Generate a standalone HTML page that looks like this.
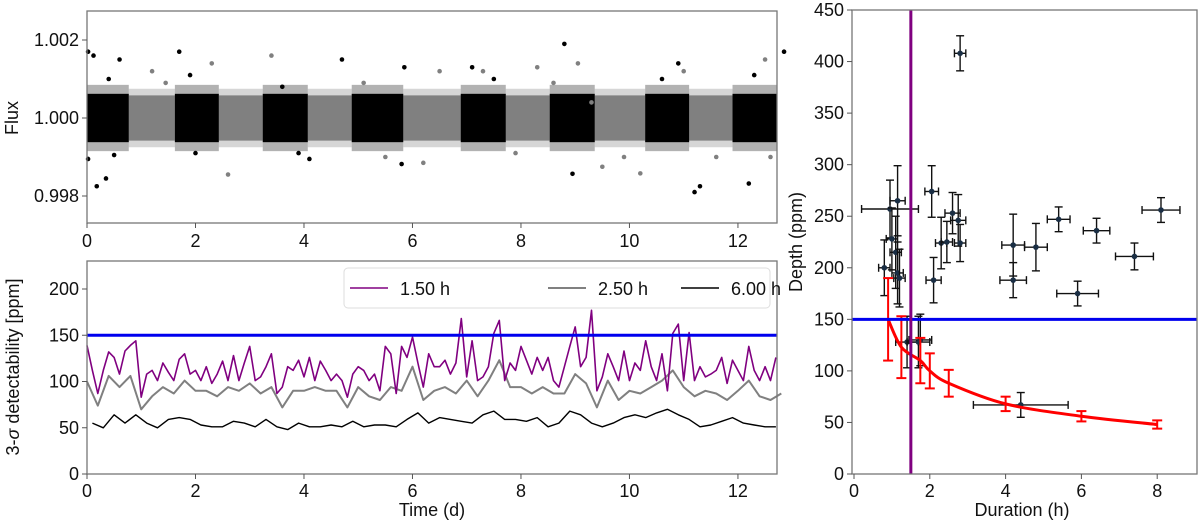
<!DOCTYPE html>
<html><head><meta charset="utf-8">
<style>
body{margin:0;background:#fff;}
svg{display:block;font-family:"Liberation Sans","DejaVu Sans",sans-serif;}
</style></head>
<body>
<svg id="fig" width="1200" height="522" viewBox="0 0 1200 522"></svg>
<script>
// ---------- DATA ----------
const blockStarts=[0,1.62,3.24,4.88,6.89,8.53,10.29,11.9];
const blockEnds=[0.77,2.43,4.07,5.83,7.72,9.36,11.1,12.72];
const outT=[0.02,0.12,0.18,0.35,0.6,1.2,1.45,1.7,2.3,2.6,3.4,4.1,4.7,5.8,6.2,7.1,7.3,8.3,8.8,9.05,9.5,10.2,10.9,11.0,11.3,12.2,12.5,12.85,0.02,5.85,6.5,8.95,9.3,11.2,0.4,0.5,1.9,2.0,3.6,3.9,5.1,5.5,7.5,7.9,8.6,9.9,10.6,11.6,12.3,12.6];
const outF=[1.0017,1.0016,0.99825,0.99845,1.0015,1.0012,1.0009,1.0017,1.0014,0.99855,1.0016,0.99895,1.0015,0.99882,0.99885,1.0013,1.0012,1.0013,1.0019,1.0014,0.99875,0.99858,1.0014,1.0012,0.99825,0.99832,1.0015,1.0017,0.99895,1.0013,1.0012,0.99857,1.0004,0.9981,1.0010,0.99905,1.0011,0.9991,1.0008,0.9991,1.0009,0.9990,1.0010,0.9991,1.0009,0.9990,1.0010,0.9990,1.0011,0.9990];
const outC=[1,1,1,1,1,0,0,1,0,0,0,1,1,1,0,1,0,0,1,0,0,0,1,0,1,1,0,1,1,1,0,1,0,1,1,1,1,1,1,1,0,0,1,0,0,0,1,0,1,0];

const purpleT0=0, step1=0.1;
const purple=[139,112,87,112,132,126,108,133,139,144,83,108,112,101,120,110,101,124,130,108,112,101,116,98,108,122,101,128,101,120,138,101,105,116,130,87,94,116,112,123,105,126,101,122,112,101,108,101,83,108,116,112,101,108,90,138,130,87,138,126,148,120,94,130,116,116,123,108,120,168,105,144,101,105,116,152,166,101,120,112,138,123,108,126,112,126,101,94,116,138,159,116,126,177,90,105,130,116,101,133,101,120,112,144,116,101,130,90,152,162,101,153,101,116,105,108,112,126,98,123,112,101,138,112,101,116,101,126];
const step2=0.2;
const gray=[100,74,106,94,106,70,84,94,87,101,90,90,84,94,90,98,87,94,72,90,90,94,90,90,72,94,84,80,94,90,116,80,90,94,87,101,84,101,123,94,94,87,94,87,87,108,98,72,101,80,90,87,94,101,112,94,84,90,87,80,90,101,84,80,87];
const blackT0=0.1;
const black=[55,50,64,55,64,55,50,59,61,59,53,51,51,57,55,51,59,51,48,55,51,51,53,51,57,51,53,53,51,59,66,55,61,59,57,55,64,68,59,59,57,61,51,55,68,64,55,51,55,61,64,61,66,70,64,59,51,53,57,61,55,53,51,51];

const ptD=[2.8,0.95,1.15,2.05,0.8,1.0,1.1,1.15,1.2,2.1,2.3,2.45,2.6,2.75,2.8,1.4,1.7,1.75,4.2,4.2,4.8,5.4,6.4,5.9,7.4,8.1,4.4];
const ptV=[408,257,265,274,200,228,215,195,190,188,224,225,253,246,224,128,128,130,222,188,220,247,236,175,211,256,67];
const ptXE=[0.15,0.75,0.2,0.18,0.15,0.15,0.15,0.15,0.15,0.2,0.15,0.15,0.2,0.2,0.15,0.3,0.3,0.3,0.3,0.35,0.3,0.3,0.35,0.55,0.5,0.5,1.25];
const ptYE=[17,28,34,25,27,30,35,30,28,22,25,20,20,25,18,25,25,25,30,17,23,12,12,12,13,12,12];
const redD=[0.9,1.25,1.75,2.0,2.5,4,6,8];
const redV=[150,123,110,100,88,68,56,48];
const redE=[40,30,22,17,13,7,5,4];
const hLine=150, vLine=1.5;

// ---------- helpers ----------
const NS='http://www.w3.org/2000/svg';
const svg=document.getElementById('fig');
function mk(tag,attrs,parent){const e=document.createElementNS(NS,tag);for(const k in attrs)e.setAttribute(k,attrs[k]);(parent||svg).appendChild(e);return e;}
function txt(x,y,s,attrs){const e=mk('text',Object.assign({x:x,y:y,'font-size':18,fill:'#111'},attrs||{}));e.textContent=s;return e;}

const L={x0:87,x1:777,t0:0,t1:12.72};
const tx=t=>L.x0+(t-L.t0)*(L.x1-L.x0)/(L.t1-L.t0);
const fy=f=>118-(f-1)/0.001*39;
const dy=v=>474-v*0.925;
const rx=d=>854+d*37.9;
const ry=v=>474-v*464/450;

// ---------- top panel ----------
const gTop=mk('g',{});


for(let i=0;i<blockStarts.length;i++){
  const gs=blockEnds[i], ge=(i+1<blockStarts.length)?blockStarts[i+1]:12.72;
  if(ge>gs){
    const g1=mk('rect',{x:tx(gs),y:fy(1.00075),width:tx(ge)-tx(gs),height:fy(0.99925)-fy(1.00075),fill:'#8a8a8a',opacity:0.35},gTop);
    
    const g2=mk('rect',{x:tx(gs),y:fy(1.00058),width:tx(ge)-tx(gs),height:fy(0.99942)-fy(1.00058),fill:'#808080'},gTop);
    
  }
  const b1=mk('rect',{x:tx(blockStarts[i]),y:fy(1.00085),width:tx(blockEnds[i])-tx(blockStarts[i]),height:fy(0.99915)-fy(1.00085),fill:'#000',opacity:0.3},gTop);
  
  const b2=mk('rect',{x:tx(blockStarts[i]),y:fy(1.00062),width:tx(blockEnds[i])-tx(blockStarts[i]),height:fy(0.99938)-fy(1.00062),fill:'#000'},gTop);
  
}
for(let i=0;i<outT.length;i++){
  const c=mk('circle',{cx:tx(outT[i]),cy:fy(outF[i]),r:2.3,fill:outC[i]?'#000':'#808080'},gTop);
  
}
const fTop=mk('rect',{x:87,y:11,width:690,height:212,fill:'none',stroke:'#777','stroke-width':1.3});

[[1.002,'1.002'],[1.000,'1.000'],[0.998,'0.998']].forEach(([v,s])=>{
  mk('line',{x1:82,x2:87,y1:fy(v),y2:fy(v),stroke:'#555'});
  const t=txt(79,fy(v)+6,s,{'text-anchor':'end'});
  
});
const flT=txt(18,118,'Flux',{'text-anchor':'middle',transform:'rotate(-90 18 118)'});

[0,2,4,6,8,10,12].forEach(v=>{
  mk('line',{x1:tx(v),x2:tx(v),y1:223,y2:228,stroke:'#555'});
  const t=txt(tx(v),247,String(v),{'text-anchor':'middle'});
  
});

// ---------- bottom panel ----------
function poly(vals,t0,st,color,w,name){
  const pts=vals.map((v,i)=>tx(t0+i*st).toFixed(1)+','+dy(v).toFixed(1)).join(' ');
  const p=mk('polyline',{points:pts,fill:'none',stroke:color,'stroke-width':w,'stroke-linejoin':'round'});
  
}
poly(gray,0,step2,'#808080',2,'line-2-50h');
poly(purple,purpleT0,step1,'#800080',1.6,'line-1-50h');
poly(black,blackT0,step2,'#000',1.4,'line-6-00h');
const bl=mk('line',{x1:87,x2:777,y1:dy(hLine),y2:dy(hLine),stroke:'#0000ee','stroke-width':3});

const fBot=mk('rect',{x:87,y:261,width:690,height:213,fill:'none',stroke:'#777','stroke-width':1.3});

[0,50,100,150,200].forEach(v=>{
  mk('line',{x1:82,x2:87,y1:dy(v),y2:dy(v),stroke:'#555'});
  const t=txt(79,dy(v)+6,String(v),{'text-anchor':'end'});
  
});
[0,2,4,6,8,10,12].forEach(v=>{
  mk('line',{x1:tx(v),x2:tx(v),y1:474,y2:479,stroke:'#555'});
  const t=txt(tx(v),497,String(v),{'text-anchor':'middle'});
  
});
const dT=mk('text',{x:0,y:0,'font-size':18,fill:'#111','text-anchor':'middle',transform:'translate(19 367) rotate(-90)'});
dT.innerHTML='3-<tspan font-style="italic">σ</tspan> detectability [ppm]';

const tT=txt(432,516,'Time (d)',{'text-anchor':'middle'});

const lg=mk('g',{});

mk('rect',{x:344,y:268,width:426,height:40,rx:4,fill:'#fff',stroke:'#ddd'},lg);
[['#800080','1.50 h',350],['#808080','2.50 h',548],['#000','6.00 h',681]].forEach(([c,s,x])=>{
  const e=mk('g',{},lg);
  
  mk('line',{x1:x,x2:x+38,y1:288,y2:288,stroke:c,'stroke-width':c==='#808080'?2:1.6},e);
  const t=mk('text',{x:x+50,y:295,'font-size':18,fill:'#111'},e);t.textContent=s;
});

// ---------- right panel ----------
const gR=mk('g',{});

for(let i=0;i<ptD.length;i++){
  const g=mk('g',{stroke:'#111','stroke-width':1.4},gR);
  
  const x=rx(ptD[i]),y=ry(ptV[i]),xl=rx(ptD[i]-ptXE[i]),xr=rx(ptD[i]+ptXE[i]),yt=ry(ptV[i]+ptYE[i]),yb=ry(ptV[i]-ptYE[i]);
  mk('line',{x1:xl,x2:xr,y1:y,y2:y},g);
  mk('line',{x1:xl,x2:xl,y1:y-4,y2:y+4},g);
  mk('line',{x1:xr,x2:xr,y1:y-4,y2:y+4},g);
  mk('line',{x1:x,x2:x,y1:yt,y2:yb},g);
  mk('line',{x1:x-4,x2:x+4,y1:yt,y2:yt},g);
  mk('line',{x1:x-4,x2:x+4,y1:yb,y2:yb},g);
  mk('circle',{cx:x,cy:y,r:2.8,fill:'#1a2e44',stroke:'none'},g);
}
// smooth red curve (Catmull-Rom through data points)
const P=redD.map((d,i)=>[rx(d),ry(redV[i])]);
let dpath='M'+P[0][0]+','+P[0][1];
for(let i=0;i<P.length-1;i++){
  const p0=P[Math.max(0,i-1)],p1=P[i],p2=P[i+1],p3=P[Math.min(P.length-1,i+2)];
  const c1=[p1[0]+(p2[0]-p0[0])/6,p1[1]+(p2[1]-p0[1])/6];
  const c2=[p2[0]-(p3[0]-p1[0])/6,p2[1]-(p3[1]-p1[1])/6];
  dpath+=' C'+c1.join(',')+' '+c2.join(',')+' '+p2.join(',');
}
const rl=mk('path',{d:dpath,fill:'none',stroke:'#f00','stroke-width':3},gR);

for(let i=0;i<redD.length;i++){
  const g=mk('g',{stroke:'#f00','stroke-width':2},gR);
  
  const x=rx(redD[i]),yt=ry(redV[i]+redE[i]),yb=ry(redV[i]-redE[i]);
  mk('line',{x1:x,x2:x,y1:yt,y2:yb},g);
  mk('line',{x1:x-5,x2:x+5,y1:yt,y2:yt},g);
  mk('line',{x1:x-5,x2:x+5,y1:yb,y2:yb},g);
}
const rb=mk('line',{x1:852,x2:1197,y1:ry(hLine),y2:ry(hLine),stroke:'#0000ee','stroke-width':3});

const vl=mk('line',{x1:rx(vLine),x2:rx(vLine),y1:10,y2:474,stroke:'#800080','stroke-width':3});

const fR=mk('rect',{x:852,y:10,width:345,height:464,fill:'none',stroke:'#777','stroke-width':1.3});

[0,50,100,150,200,250,300,350,400,450].forEach(v=>{
  mk('line',{x1:847,x2:852,y1:ry(v),y2:ry(v),stroke:'#555'});
  const t=txt(844,ry(v)+6,String(v),{'text-anchor':'end'});
  
});
[0,2,4,6,8].forEach(v=>{
  mk('line',{x1:rx(v),x2:rx(v),y1:474,y2:479,stroke:'#555'});
  const t=txt(rx(v),497,String(v),{'text-anchor':'middle'});
  
});
const dpT=txt(802,242,'Depth (ppm)',{'text-anchor':'middle',transform:'rotate(-90 802 242)'});

const duT=txt(1022,516,'Duration (h)',{'text-anchor':'middle'});

</script>
</body></html>
